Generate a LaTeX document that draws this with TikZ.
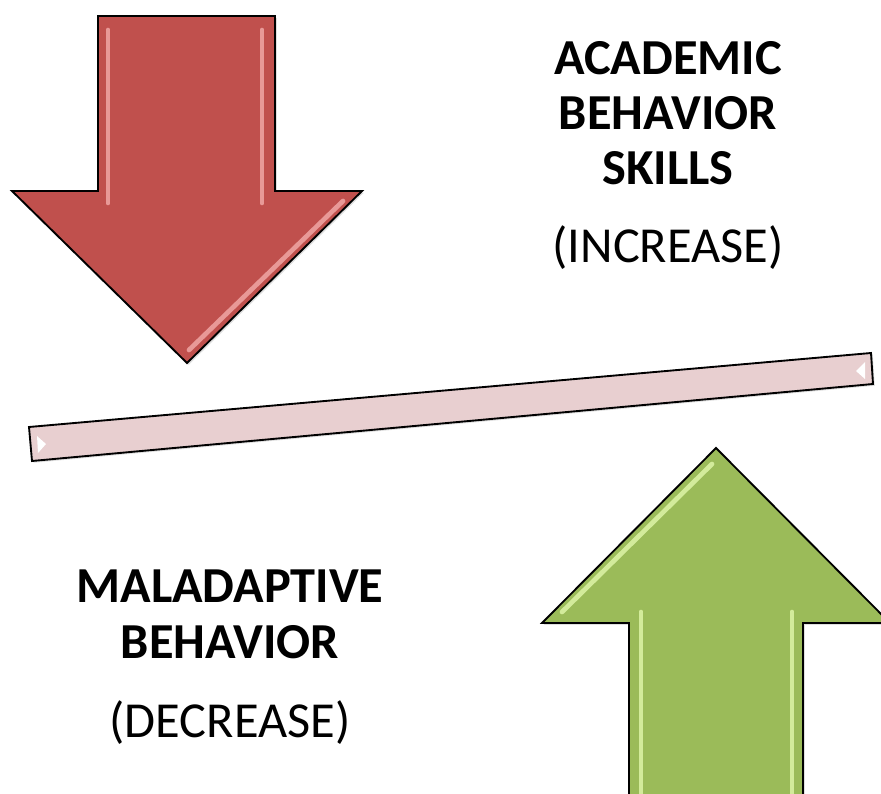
\documentclass[tikz,border=0pt]{standalone}
\usepackage[usenames,dvipsnames]{xcolor}
\usepackage{fontspec}
\setmainfont{Carlito}
\usetikzlibrary{shadows}

\definecolor{downred}{RGB}{192,80,77}
\definecolor{downredlight}{RGB}{242,172,170}
\definecolor{upgreen}{RGB}{155,187,89}
\definecolor{upgreenlight}{RGB}{226,248,172}
\definecolor{beampink}{RGB}{232,207,208}

\tikzset{
    shapeline/.style={draw=black, line width=1.6pt, line join=miter,
        drop shadow={shadow xshift=1.5pt, shadow yshift=-1.5pt, opacity=.25}},
    bevel/.style={line width=4pt, line cap=round, opacity=.8},
    headtext/.style={font=\fontsize{43}{47}\selectfont\bfseries, align=center, anchor=base, inner sep=0pt},
    subtext/.style={font=\fontsize{43}{47}\selectfont, anchor=base, inner sep=0pt},
}

\begin{document}
\begin{tikzpicture}[x=0.03cm,y=-0.03cm]

    \clip (0,0) rectangle (881,793);

    \coordinate (D1) at (98,16);
    \coordinate (D2) at (275,16);
    \coordinate (D3) at (275,191);
    \coordinate (D4) at (362,191);
    \coordinate (Dtip) at (187,363);
    \coordinate (D5) at (12,191);
    \coordinate (D6) at (98,191);
    \draw[shapeline, fill=downred] (D1)--(D2)--(D3)--(D4)--(Dtip)--(D5)--(D6)--cycle;
    \foreach \a/\b in {{108,30}/{108,203},{262,30}/{262,203},{343,201}/{189,350}}{%
        \draw[bevel, downredlight] (\a)--(\b);
    }

    \coordinate (B1) at (29,427);
    \coordinate (B2) at (871,353);
    \coordinate (B3) at (873,384);
    \coordinate (B4) at (32,461);
    \draw[shapeline, fill=beampink] (B1)--(B2)--(B3)--(B4)--cycle;
    \fill[white] (37,436)--(46,444)--(38,453)--cycle;
    \fill[white] (865,362)--(856,371)--(865,379)--cycle;

    \coordinate (Utip) at (716,448);
    \coordinate (U1) at (890,623);
    \coordinate (U2) at (803,623);
    \coordinate (U3) at (803,810);
    \coordinate (U4) at (629,810);
    \coordinate (U5) at (629,623);
    \coordinate (U6) at (542,623);
    \draw[shapeline, fill=upgreen] (Utip)--(U1)--(U2)--(U3)--(U4)--(U5)--(U6)--cycle;
    \foreach \a/\b in {{712,464}/{562,612},{641,612}/{641,800},{792,612}/{792,800}}{%
        \draw[bevel, upgreenlight] (\a)--(\b);
    }

    \node[headtext] (academic) at (668,185) {ACADEMIC\\BEHAVIOR\\SKILLS};
    \node[subtext] (increase) at (668,262) {(INCREASE)};
    \node[headtext] (maladaptive) at (230,658) {MALADAPTIVE\\BEHAVIOR};
    \node[subtext] (decrease) at (230,737) {(DECREASE)};

\end{tikzpicture}
\end{document}
